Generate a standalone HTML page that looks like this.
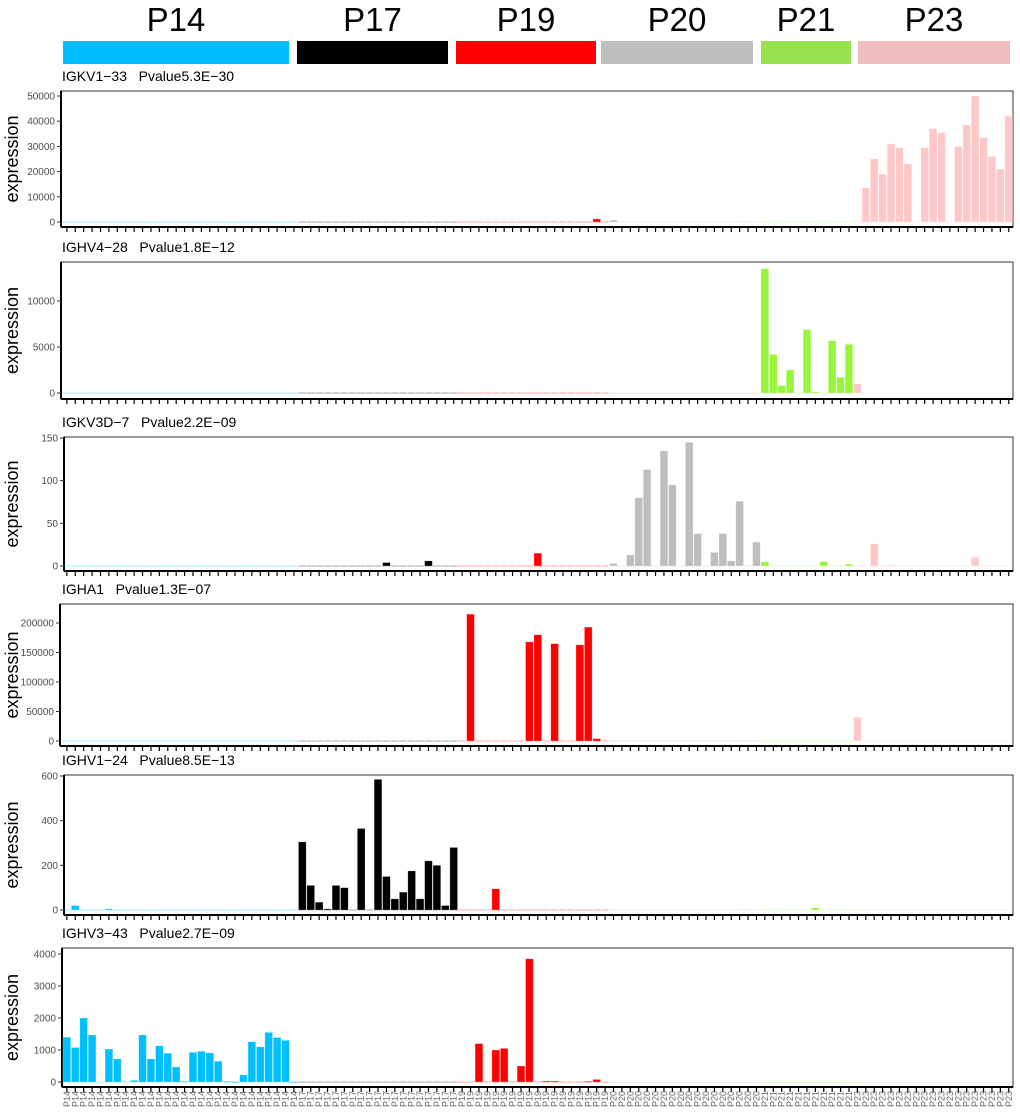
<!DOCTYPE html>
<html><head><meta charset="utf-8">
<style>
html,body{margin:0;padding:0;background:#fff;}
svg{display:block;font-family:"Liberation Sans",Arial,sans-serif;}
</style></head>
<body>
<svg id="chart" width="1020" height="1116" viewBox="0 0 1020 1116" xmlns="http://www.w3.org/2000/svg"></svg>
<script>
// ---- data ----
const groups = ["P14","P17","P19","P20","P21","P23"];
const groupSizes = [28,19,18,18,11,19];
const groupColors = ["#00BFFF","#000000","#FF0000","#BEBEBE","#99F53C","#FFC8C8"];
const headerColors = ["#00BFFF","#000000","#FF0000","#BEBEBE","#99E24F","#F0BEBE"];

const geneNames = ["IGKV1-33","IGHV4-28","IGKV3D-7","IGHA1","IGHV1-24","IGHV3-43"];
const pvalues = ["5.3E-30","1.8E-12","2.2E-09","1.3E-07","8.5E-13","2.7E-09"];

const tickLabels1 = [0,10000,20000,30000,40000,50000];
const tickLabels2 = [0,5000,10000];
const tickLabels3 = [0,50,100,150];
const tickLabels4 = [0,50000,100000,150000,200000];
const tickLabels5 = [0,200,400,600];
const tickLabels6 = [0,1000,2000,3000,4000];

// values per panel (113 samples, grouped P14|P17|P19|P20|P21|P23)
const values1 = [].concat(
 [0,0,0,0,0,0,0,0,0,0,0,0,0,0,0,0,0,0,0,0,0,0,0,0,0,0,0,0],
 [0,0,0,0,0,0,0,0,0,0,0,0,0,0,0,0,0,0,0],
 [0,0,0,0,0,0,0,0,0,0,0,0,0,0,0,0,1200,0],
 [700,0,0,0,0,0,0,0,0,0,0,0,0,0,0,0,0,0],
 [0,0,0,0,0,0,0,0,0,0,0],
 [0,13500,25000,19000,31000,29500,23000,0,29500,37000,35500,0,30000,38500,50000,33500,26000,21000,42000]);
const values2 = [].concat(
 new Array(28).fill(0), new Array(19).fill(0), new Array(18).fill(0), new Array(18).fill(0),
 [13500,4200,800,2500,0,6900,100,0,5700,1700,5300],
 [1000,0,0,0,0,0,0,0,0,0,0,0,0,0,0,0,0,0,0]);
const values3 = [].concat(
 new Array(28).fill(0),
 [0,0,0,0,0,0,0,0,0,0,4,0,0,0,0,6,0,0,0],
 [0,0,0,0,0,0,0,0,0,15,0,0,0,0,0,0,0,0],
 [3,0,13,80,113,0,135,95,0,145,38,0,16,38,6,76,0,28],
 [5,0,0,0,0,0,0,5,0,0,2],
 [0,0,26,0,1,0,0,0,0,0,0,0,0,0,10,0,0,0,0]);
const values4 = [].concat(
 new Array(28).fill(0), new Array(19).fill(0),
 [0,215000,0,0,0,0,0,0,168000,180000,0,165000,0,0,163000,193000,4000,0],
 new Array(18).fill(0), new Array(11).fill(0),
 [40000,0,0,0,0,0,0,0,0,0,0,0,0,0,0,0,0,0,0]);
const values5 = [].concat(
 [0,20,0,0,0,5,0,0,0,0,0,0,0,0,0,0,0,0,0,0,0,0,0,0,0,0,0,0],
 [305,110,35,5,110,100,0,365,0,585,150,50,80,175,50,220,200,20,280],
 [0,0,0,0,95,0,0,0,0,0,0,0,0,0,0,0,0,0],
 new Array(18).fill(0),
 [0,0,0,0,0,0,10,0,0,0,0],
 new Array(19).fill(0));
const values6 = [].concat(
 [1400,1080,2000,1470,0,1030,720,0,50,1470,720,1130,900,470,20,930,960,910,650,20,10,220,1260,1100,1550,1390,1300,10],
 new Array(19).fill(0),
 [0,0,1200,0,1000,1050,0,500,3850,0,30,30,0,0,0,20,80,0],
 new Array(18).fill(0), new Array(11).fill(0), new Array(19).fill(0));

// ---- layout ----
const NS = "http://www.w3.org/2000/svg";
const svg = document.getElementById("chart");
function mk(tag, attrs, parent){const e=document.createElementNS(NS,tag);for(const k in attrs)e.setAttribute(k,attrs[k]);(parent||svg).appendChild(e);return e;}

const N = 113, X0 = 63, STEP = 8.41, BW = 7.7;
const sampleGroup = [];
groups.forEach((g,gi)=>{for(let k=0;k<groupSizes[gi];k++)sampleGroup.push(gi);});
function xScale(i){return X0 + i*STEP;}

// header
const headerBars = [[63,289],[297,448],[456,596],[601,753],[761,851],[858,1010]];
groups.forEach((g,gi)=>{
  const [a,b] = headerBars[gi];
  const r = mk("rect",{x:a,y:41,width:b-a,height:23,fill:headerColors[gi]});
  
  
  const t = mk("text",{x:(a+b)/2,y:31,"text-anchor":"middle","font-size":"33",fill:"#000"});
  t.textContent = g;
  
  
});

const panels = [
 {vals:values1,ticks:tickLabels1,top:91,bot:227,zero:222,vmax:50000,ymax:96,left:61},
 {vals:values2,ticks:tickLabels2,top:262,bot:399,zero:393,vmax:10000,ymax:301,left:61},
 {vals:values3,ticks:tickLabels3,top:437,bot:571,zero:566,vmax:150,ymax:438,left:64},
 {vals:values4,ticks:tickLabels4,top:604,bot:746,zero:741,vmax:200000,ymax:623,left:60},
 {vals:values5,ticks:tickLabels5,top:775,bot:915,zero:910,vmax:600,ymax:776,left:64},
 {vals:values6,ticks:tickLabels6,top:948,bot:1087,zero:1082,vmax:4000,ymax:954,left:62}
];

panels.forEach((p,pi)=>{
  const g = mk("g",{});
  
  
  const yScale = v => p.zero - v/p.vmax*(p.zero-p.ymax);
  const t = mk("text",{x:62,y:p.top-10,"font-size":"14",fill:"#000"},g);
  t.textContent = geneNames[pi].replace("-","\u2212") + "   Pvalue" + pvalues[pi].replace("-","\u2212");
  t.style.whiteSpace="pre";
  
  
  const fr = mk("rect",{x:p.left,y:p.top,width:1013-p.left,height:p.bot-p.top,fill:"none",stroke:"#333","stroke-width":"1"},g);
  
  
  mk("line",{x1:p.left,y1:p.top,x2:p.left,y2:p.bot,stroke:"#000","stroke-width":"2"},g);
  mk("line",{x1:p.left,y1:p.bot,x2:1013,y2:p.bot,stroke:"#000","stroke-width":"2"},g);
  p.ticks.forEach(v=>{
    const y = yScale(v);
    mk("line",{x1:p.left-4,y1:y,x2:p.left,y2:y,stroke:"#333","stroke-width":"1"},g);
    const tl = mk("text",{x:p.left-6,y:y+3.5,"text-anchor":"end","font-size":"10","font-size-adjust":"none",fill:"#4d4d4d"},g);
    tl.textContent = v;
    
    
  });
  const yt = mk("text",{x:0,y:0,"text-anchor":"middle","font-size":"18",fill:"#000",transform:`translate(18,${(p.top+p.bot)/2}) rotate(-90)`},g);
  yt.textContent = "expression";
  
  
  for(let i=0;i<N;i++){
    const v = p.vals[i]||0;
    const col = groupColors[sampleGroup[i]];
    const x = xScale(i);
    mk("line",{x1:x,y1:p.zero,x2:x+BW,y2:p.zero,stroke:col,"stroke-opacity":"0.35","stroke-width":"1"},g);
    if(v>0){
      const y = yScale(v);
      const b = mk("rect",{x:x,y:y,width:BW,height:Math.max(p.zero-y,1),fill:col,stroke:"#ffffff","stroke-opacity":"0.4","stroke-width":"0.6"},g);
      
      
    }
    mk("line",{x1:x+BW/2,y1:p.bot,x2:x+BW/2,y2:p.bot+5,stroke:"#000","stroke-width":"1.2"},g);
  }
});

for(let i=0;i<N;i++){
  const cx = xScale(i)+BW/2;
  const t = mk("text",{x:0,y:0,"text-anchor":"end","font-size":"9",fill:"#666",transform:`translate(${cx+3},1091) rotate(-90)`});
  t.textContent = groups[sampleGroup[i]];
  
  
}
</script>
</body></html>
